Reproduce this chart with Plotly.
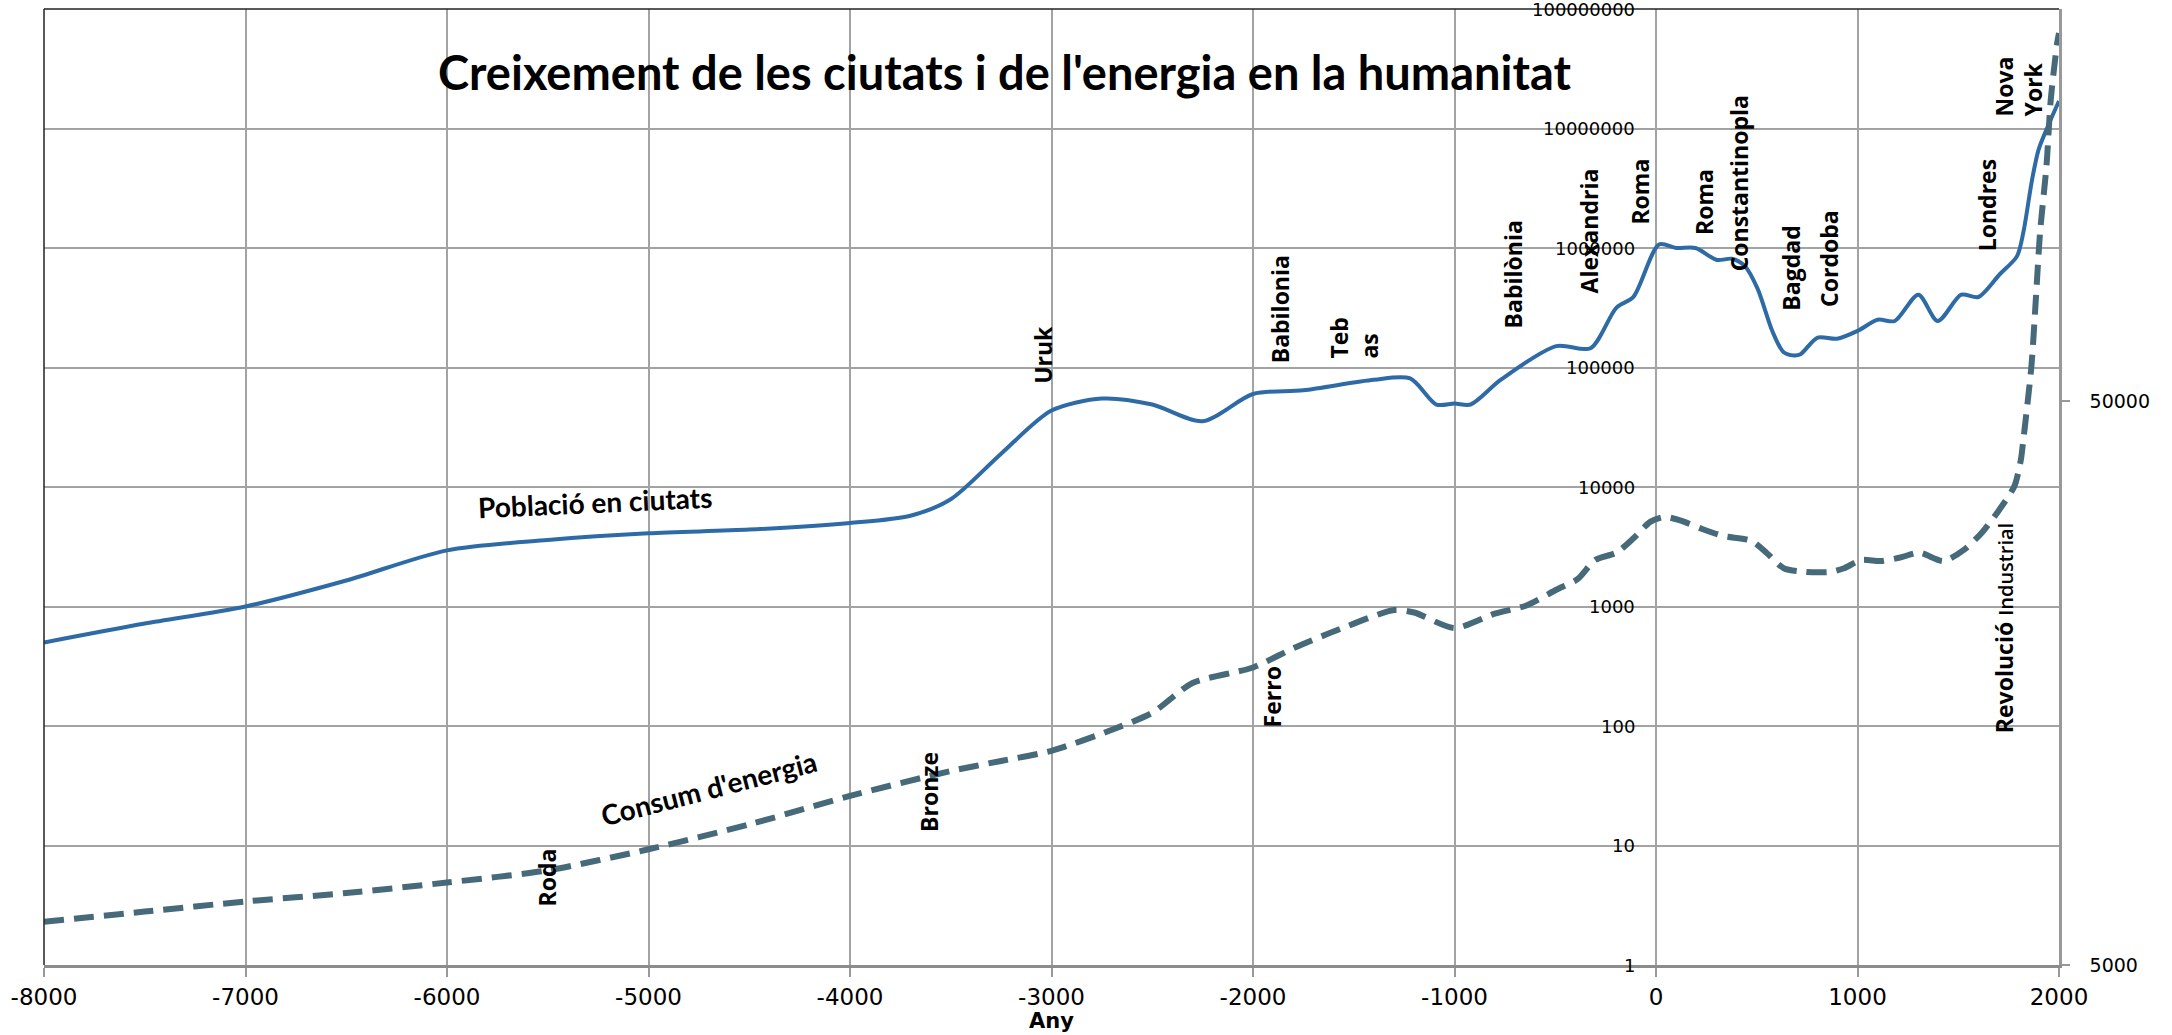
import math
import plotly.graph_objects as go

# ---------------- data ----------------
pop_years = [-8000, -7500, -7000, -6500, -6000, -5500, -5000, -4500, -4000, -3700,
             -3500, -3250, -3000, -2750, -2500, -2250, -2000, -1750, -1400, -1220,
             -1090, -1000, -920, -770, -495, -325, -197, -112, 15, 100,
             196, 302, 376, 440, 504, 578, 632, 685, 717, 802,
             898, 1004, 1100, 1185, 1302, 1398, 1515, 1600, 1706, 1791,
             1823, 1866, 1898, 1940, 2000]
pop_values = [500, 720, 1000, 1650, 2950, 3600, 4100, 4400, 5000, 5750,
              7900, 19000, 43600, 55000, 49000, 35500, 60000, 64500, 79000, 81000,
              49000, 50000, 49000, 79000, 151000, 145000, 316000, 390000, 1070000, 1000000,
              1000000, 794000, 813000, 708000, 457000, 200000, 135000, 126000, 129000, 178000,
              174000, 204000, 251000, 245000, 407000, 245000, 407000, 389000, 603000, 851000,
              1350000, 3700000, 6600000, 10000000, 17000000]

energy_years = [-8000, -7500, -7000, -6500, -6000, -5500, -5000, -4500, -4000, -3500,
                -3250, -3000, -2700, -2500, -2300, -2000, -1800, -1600, -1300, -1200,
                -1000, -800, -643, -495, -388, -302, -197, -112, -27, 45,
                120, 227, 334, 473, 548, 634, 740, 869, 933, 1019,
                1115, 1212, 1308, 1426, 1533, 1618, 1704, 1779, 1811, 1820,
                1863, 1885, 1906, 1938, 1959, 1991, 2000]
energy_values = [2.3, 2.8, 3.4, 4.0, 4.9, 6.2, 9.3, 15, 26, 42,
                 51, 62, 93, 129, 229, 309, 447, 617, 933, 891,
                 661, 871, 1020, 1380, 1700, 2450, 2820, 3720, 5130, 5620,
                 5250, 4470, 3890, 3550, 2820, 2090, 1950, 1950, 2090, 2450,
                 2400, 2570, 2820, 2400, 3020, 4170, 6460, 10200, 17000, 22400,
                 102000, 372000, 1350000, 4900000, 17400000, 52000000, 63000000]

x_ticks = [-8000, -7000, -6000, -5000, -4000, -3000, -2000, -1000, 0, 1000, 2000]
x_tick_labels = ["-8000", "-7000", "-6000", "-5000", "-4000", "-3000", "-2000", "-1000", "0", "1000", "2000"]
y_ticks = [1, 10, 100, 1000, 10000, 100000, 1000000, 10000000, 100000000]
y_tick_labels = ["1", "10", "100", "1000", "10000", "100000", "1000000", "10000000", "100000000"]
right_ticks = [5000, 50000]
right_tick_labels = ["5000", "50000"]

title_text = "Creixement de les ciutats i de l'energia en la humanitat"
x_title = "Any"
pop_label = "Població en ciutats"
energy_label = "Consum d'energia"

# event labels: text, year, log10 of bottom position
event_labels = [
    ("Uruk", -3040, 4.85),
    ("Babilonia", -1865, 5.02),
    ("Teb<br>as", -1500, 5.06),
    ("Babilònia", -705, 5.31),
    ("Alexandria", -332, 5.60),
    ("Roma", -79, 6.18),
    ("Roma", 237, 6.09),
    ("Constantinopla", 413, 5.79),
    ("Bagdad", 668, 5.46),
    ("Cordoba", 861, 5.49),
    ("Londres", 1640, 5.96),
    ("Nova<br>York", 1799, 7.08),
    ("Ferro", -1904, 1.97),
    ("Bronze", -3611, 1.10),
    ("Roda", -5506, 0.47),
    ("Revolució <span style='font-size:20px;font-weight:600'>Industrial</span>", 1725, 1.92),
]

# ---------------- figure ----------------
POP_COLOR = "#2E6BA6"
EN_COLOR = "#476A7B"
GRID = "#a3a3a3"

fig = go.Figure()
fig.add_trace(go.Scatter(
    x=pop_years, y=pop_values, mode="lines", name=pop_label,
    line=dict(color=POP_COLOR, width=4, shape="spline", smoothing=0.8),
    hoverinfo="x+y"))
fig.add_trace(go.Scatter(
    x=energy_years, y=energy_values, mode="lines", name=energy_label,
    line=dict(color=EN_COLOR, width=6, dash="20px,10px", shape="spline", smoothing=0.7),
    hoverinfo="x+y"))
fig.add_trace(go.Scatter(
    x=[x_ticks[0]], y=[right_ticks[0]], yaxis="y2", mode="markers",
    marker=dict(opacity=0), showlegend=False, hoverinfo="skip"))

annotations = []
for lab, val in zip(y_tick_labels, y_ticks):
    annotations.append(dict(
        text=lab, x=0, y=math.log10(val), xref="x", yref="y",
        xanchor="right", yanchor="middle", xshift=-19, showarrow=False,
        font=dict(family="DejaVu Sans", size=18, color="black")))

for txt, yr, lg in event_labels:
    annotations.append(dict(
        text=txt, x=yr, y=lg, xref="x", yref="y", textangle=-90,
        xanchor="center", yanchor="bottom", align="left", showarrow=False,
        font=dict(family="Open Sans", size=23, color="black", weight=700)))

annotations.append(dict(
    text=title_text, x=0.4765, y=0.934, xref="paper", yref="paper",
    xanchor="center", yanchor="middle", showarrow=False,
    font=dict(family="Lato", size=47, color="black", weight=700)))
annotations.append(dict(
    text=pop_label, x=-5268, y=3.875, xref="x", yref="y", textangle=-2.6,
    xanchor="center", yanchor="middle", showarrow=False,
    font=dict(family="Lato", size=28, color="black", weight=700)))
annotations.append(dict(
    text=energy_label, x=-4698, y=1.478, xref="x", yref="y", textangle=-14.5,
    xanchor="center", yanchor="middle", showarrow=False,
    font=dict(family="Lato", size=28, color="black", weight=700)))
annotations.append(dict(
    text=x_title, x=0.5, y=-0.059, xref="paper", yref="paper",
    xanchor="center", yanchor="middle", showarrow=False,
    font=dict(family="DejaVu Sans", size=21, color="black", weight=700)))

fig.update_layout(
    width=2172, height=1035,
    margin=dict(l=44, r=113, t=9, b=70),
    paper_bgcolor="white", plot_bgcolor="white",
    showlegend=False,
    annotations=annotations,
    xaxis=dict(
        range=[-8000, 2000], tickvals=x_ticks, ticktext=x_tick_labels,
        ticks="outside", ticklen=9, tickwidth=1.5, tickcolor="#999999",
        showgrid=True, gridcolor=GRID, gridwidth=1.5,
        showline=True, linecolor="#8c8c8c", linewidth=3,
        zeroline=False,
        tickfont=dict(family="DejaVu Sans", size=23, color="black")),
    yaxis=dict(
        type="log", range=[0, 8], tickvals=y_ticks, showticklabels=False,
        showgrid=True, gridcolor=GRID, gridwidth=2, zeroline=False,
        showline=False, ticks=""),
    yaxis2=dict(
        type="log", overlaying="y", side="right",
        range=[math.log10(5000), math.log10(5000) + 956.2 / 563.8],
        tickvals=right_ticks, ticktext=right_tick_labels,
        ticks="outside", ticklen=8, tickwidth=1.5, tickcolor="#999999",
        showgrid=False, zeroline=False,
        showline=True, linecolor="#999999", linewidth=2.5,
        ticklabelstandoff=16,
        tickfont=dict(family="DejaVu Sans", size=19, color="black")),
    shapes=[
        dict(type="line", xref="paper", yref="paper", x0=0, x1=1, y0=1, y1=1,
             line=dict(color="#222222", width=1.5)),
        dict(type="line", xref="paper", yref="paper", x0=0, x1=0, y0=0, y1=1,
             line=dict(color="#222222", width=1.5)),
    ],
)

fig.write_html(
    "out.html",
    config={"displayModeBar": False},
    post_script="document.body.style.margin='0';document.body.style.padding='0';"
                "document.body.style.overflow='hidden';",
)
